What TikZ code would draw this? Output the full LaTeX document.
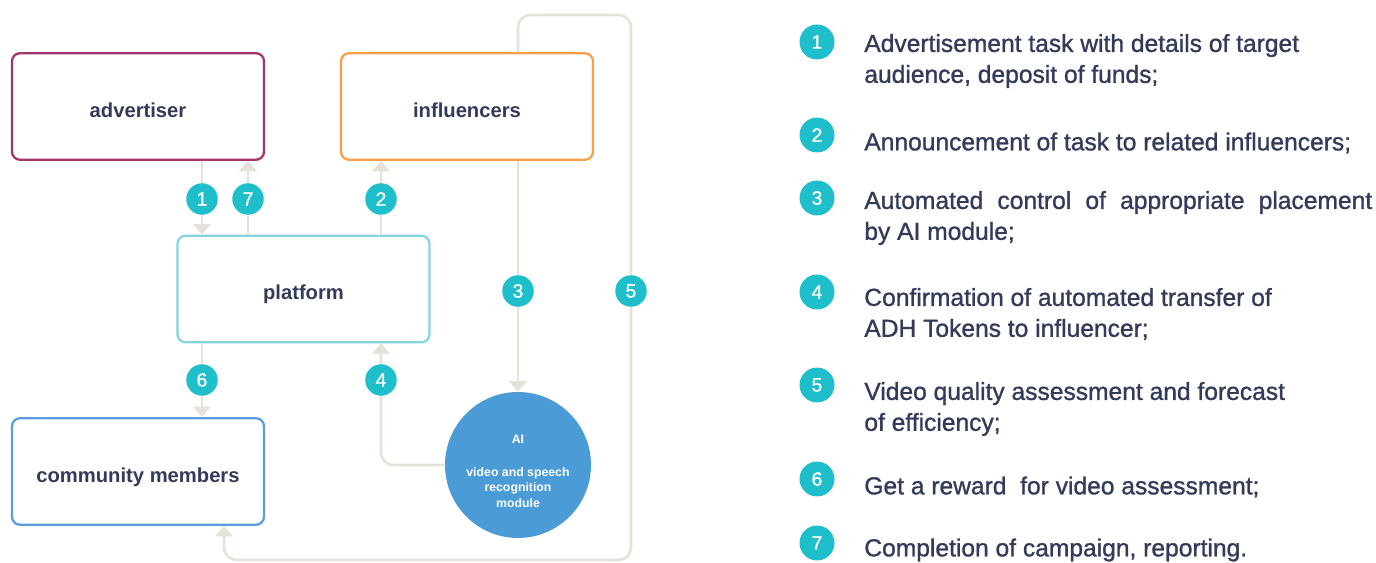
\documentclass[tikz,border=0pt]{standalone}
\usepackage{fontspec}
\setmainfont{Liberation Sans}
\newfontfamily\medfont{Liberation Sans}[FakeBold=1.1]
\usetikzlibrary{arrows.meta}
\definecolor{advcol}{RGB}{166,52,108}
\definecolor{inflcol}{RGB}{247,160,74}
\definecolor{platcol}{RGB}{133,212,226}
\definecolor{commcol}{RGB}{90,159,219}
\definecolor{aicol}{RGB}{74,155,214}
\definecolor{badgecol}{RGB}{31,190,203}
\definecolor{linecol}{RGB}{230,226,218}
\definecolor{txtcol}{RGB}{52,58,90}
\tikzset{
  box/.style={draw=#1, line width=1.3pt, rounded corners=4.5pt, fill=white,
    minimum width=5.04cm, minimum height=2.13cm, text=txtcol,
    text height=14pt, text depth=1.6pt,
    font=\fontsize{11.5}{14}\selectfont\bfseries},
  flow/.style={draw=linecol, line width=1.5pt},
  badge/.style={circle, fill=badgecol, text=white, inner sep=0pt,
    minimum size=0.63cm, font=\medfont\fontsize{11}{12}\selectfont},
  item/.style={anchor=west, align=left, inner sep=0pt, text=txtcol,
    font=\medfont\fontsize{14}{17.6}\selectfont}
}
\begin{document}
\begin{tikzpicture}[x=0.02cm,y=-0.02cm,>={Triangle[width=10pt,length=6pt]}]
\useasboundingbox (0,0) rectangle (1376,563);
% boxes
\node[box=advcol] (adv) at (138,106.5) {advertiser};
\node[box=inflcol] (infl) at (467,106.5) {influencers};
\node[box=platcol] (plat) at (303.5,289) {platform};
\node[box=commcol] (comm) at (138,471.5) {community members};
\node[circle, fill=aicol, minimum size=2.92cm, inner sep=0pt] (ai) at (518,465) {};
\node[text=white, align=center, font=\fontsize{7}{8.8}\selectfont\bfseries] (aitext) at (518,471)
  {AI\\[10pt]video and speech\\recognition\\module};
% connectors
\draw[flow,->] (adv.south -| 202,0) -- (plat.north -| 202,0);
\draw[flow,->] (plat.north -| 248,0) -- (adv.south -| 248,0);
\draw[flow,->] (plat.north -| 381,0) -- (infl.south -| 381,0);
\draw[flow,->] (infl.south -| 518,0) -- (ai.north);
\draw[flow,->,rounded corners=7pt] (ai.west) -| (plat.south -| 381,0);
\draw[flow,->] (plat.south -| 202,0) -- (comm.north -| 202,0);
\draw[flow,->,rounded corners=7pt] (infl.north -| 518,0) |- (631,15) |- (224,560) -- (comm.south -| 224,0);
\foreach \n/\x/\y in {1/202/199,7/248/199,2/381/199,3/518/291,5/631/291,6/202/380,4/381/380}{
  \node[badge] (d\n) at (\x,\y) {\n};
}
% legend
\foreach \n/\yb/\yt/\txt in {
  1/42/61/{Advertisement task with details of target\\audience, deposit of funds;},
  2/135/143/{Announcement of task to related influencers;},
  3/198/218/{\makebox[10.16cm][s]{Automated control of appropriate placement}\\by AI module;},
  4/292/314/{Confirmation of automated transfer of\\ADH Tokens to influencer;},
  5/385/409/{Video quality assessment and forecast\\of efficiency;},
  6/479/487/{Get a reward~ for video assessment;},
  7/543/550/{Completion of campaign, reporting.}}{
  \node[badge, minimum size=0.7cm] (l\n) at (817,\yb) {\n};
  \node[item] (t\n) at (864,\yt) {\txt};
}
\end{tikzpicture}
\end{document}
